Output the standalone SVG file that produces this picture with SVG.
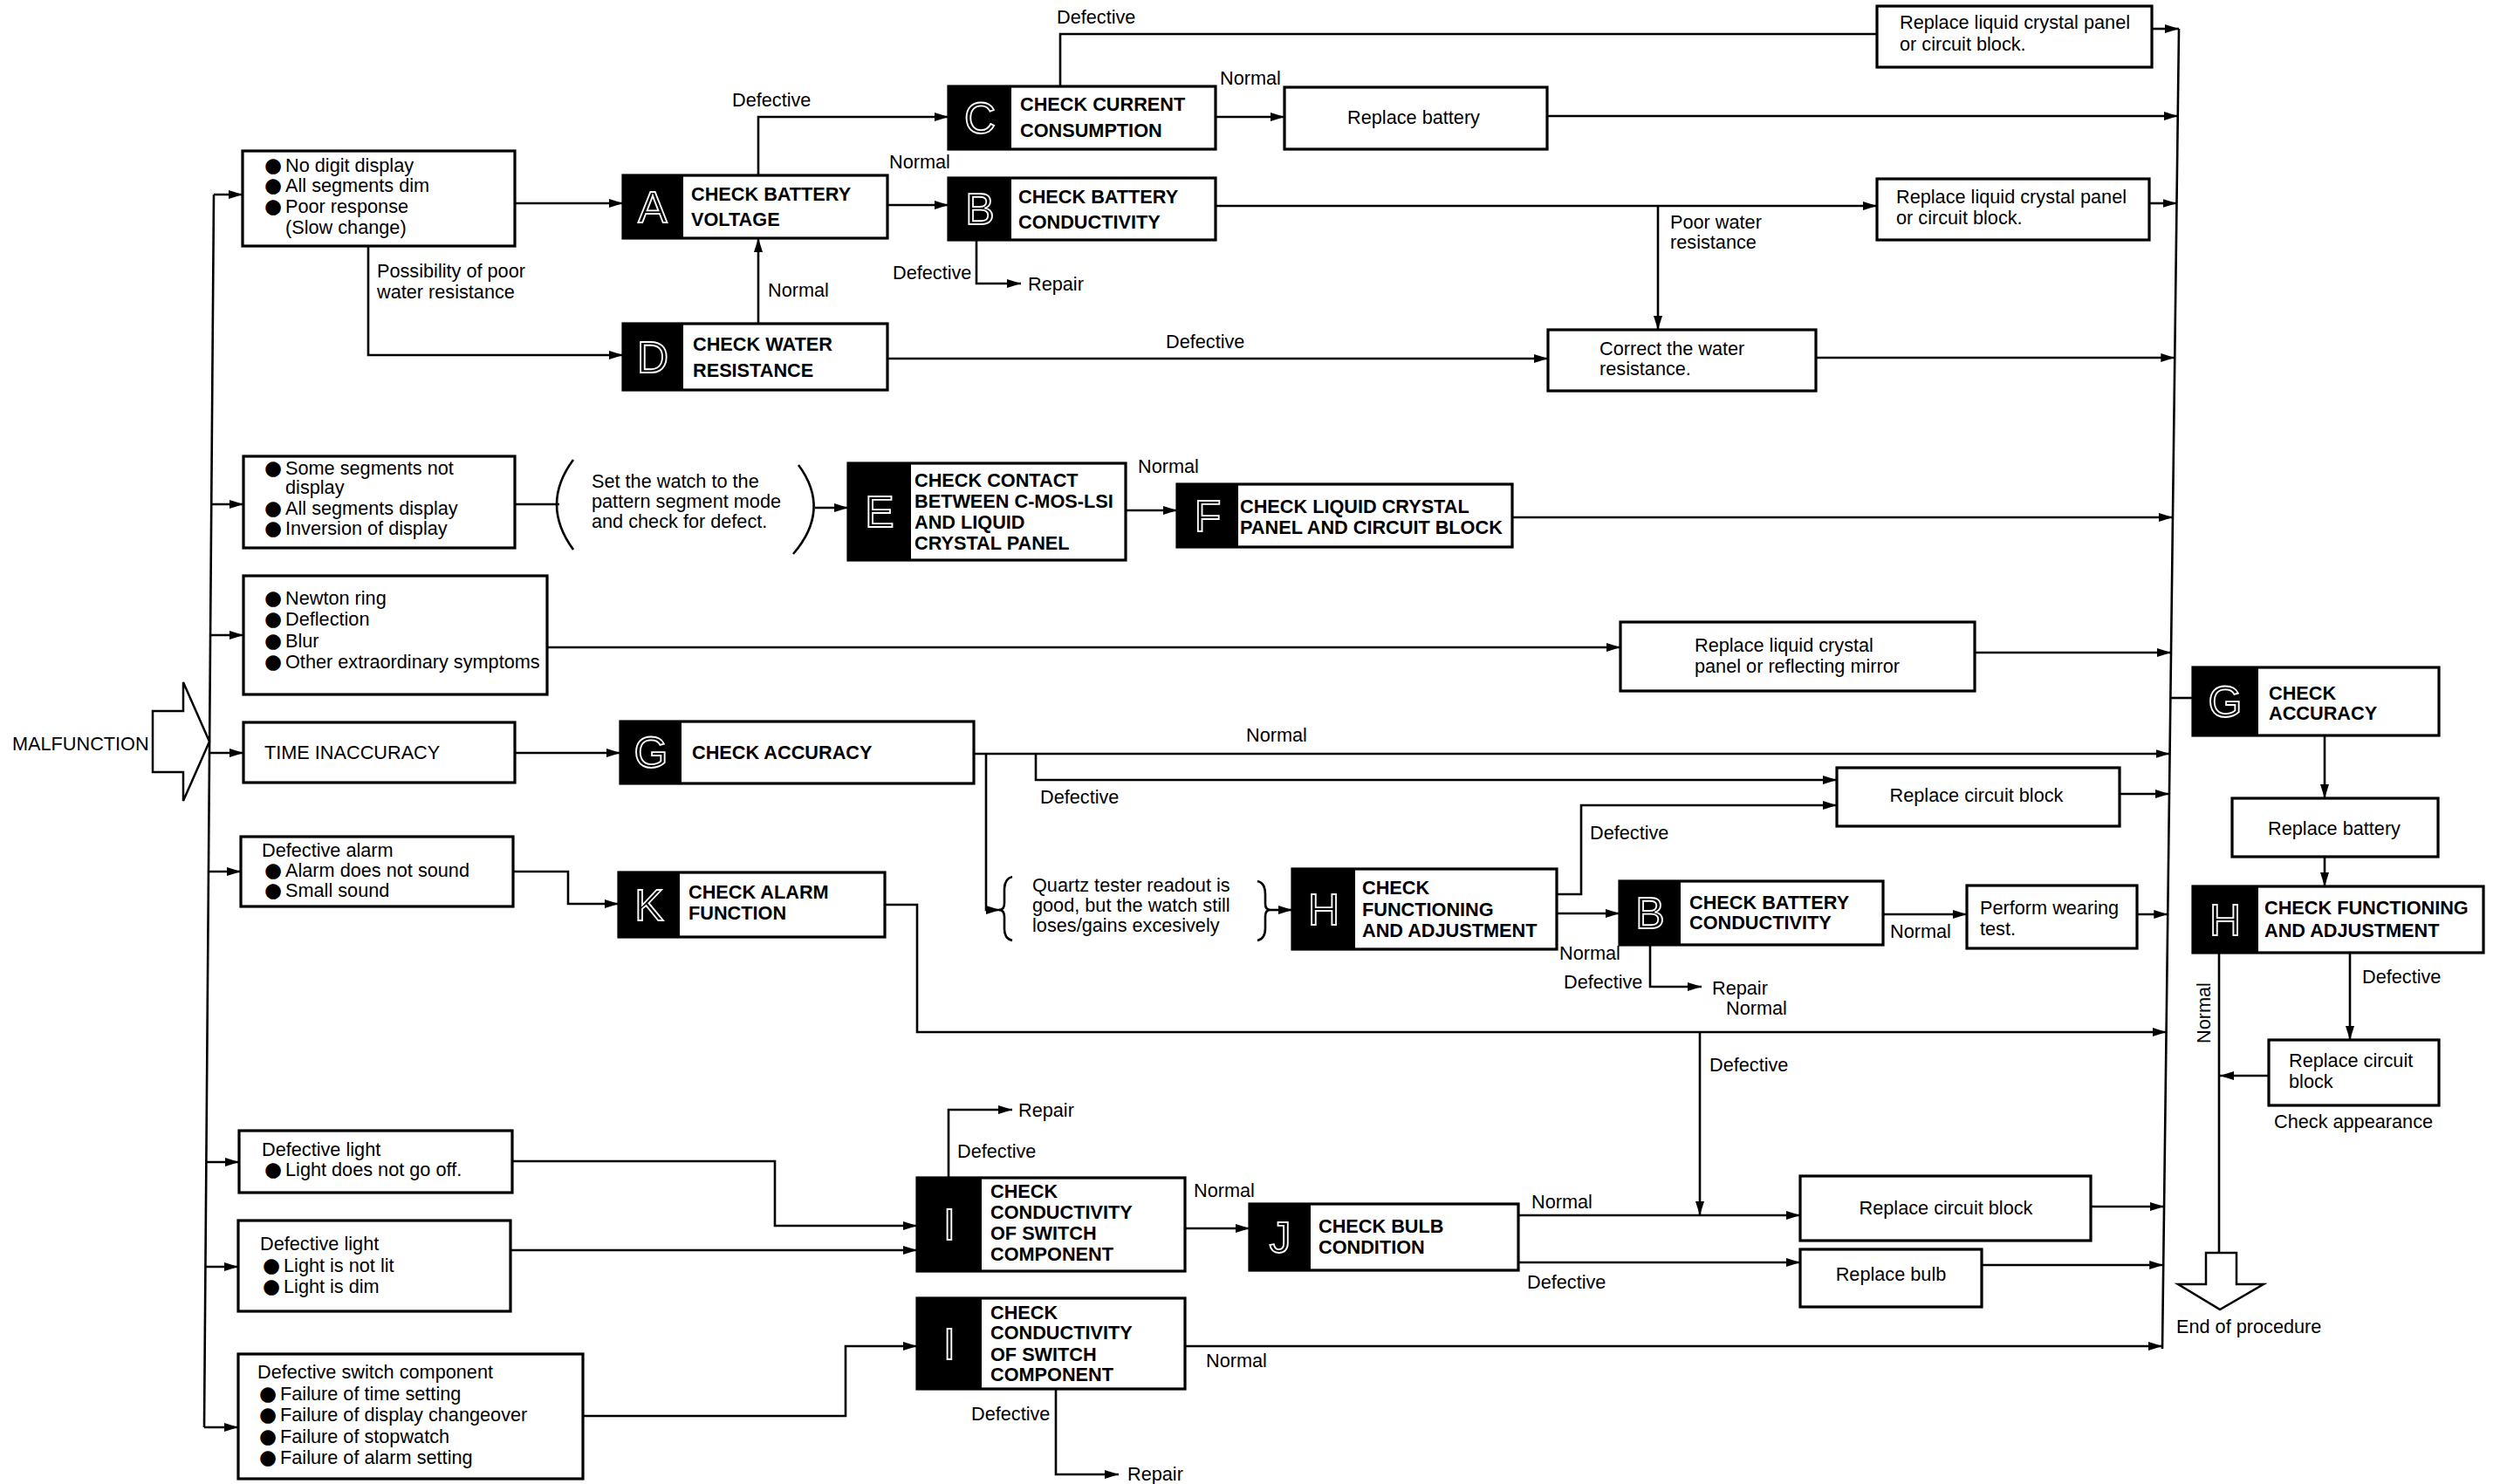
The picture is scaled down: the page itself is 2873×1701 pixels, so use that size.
<svg xmlns="http://www.w3.org/2000/svg" width="2873" height="1701" viewBox="0 0 2873 1701">
<style>
.bx{fill:#fff;stroke:#000;stroke-width:3.2}
.bk{fill:#000}
.ln{fill:none;stroke:#000;stroke-width:2.6}
.ar{marker-end:url(#ah)}
text{font-family:"Liberation Sans",Arial,Helvetica,sans-serif;font-size:21.7px;fill:#000}
.b{font-weight:bold}
.lt{font-size:50px;fill:#000;stroke:#fff;stroke-width:1.8;text-anchor:middle}
.c{text-anchor:middle}
.bul{font-family:"DejaVu Sans",sans-serif;font-size:23px}
.ol{fill:#fff;stroke:#000;stroke-width:2.5}
</style>
<defs>
<marker id="ah" viewBox="0 0 16 10" refX="16" refY="5" markerWidth="16" markerHeight="10" markerUnits="userSpaceOnUse" orient="auto"><path d="M0,0 L16,5 L0,10 z" fill="#000"/></marker>
</defs>
<rect width="2873" height="1701" fill="#fff"/>

<g id="connectors">
<!-- left bus -->
<path class="ln" d="M245,223 L234,1636"/>
<path class="ln ar" d="M245,223 H278"/>
<path class="ln ar" d="M242,578 H279"/>
<path class="ln ar" d="M241,728 H279"/>
<path class="ln ar" d="M240,863 H279"/>
<path class="ln ar" d="M239,999 H276"/>
<path class="ln ar" d="M236.4,1332 H274"/>
<path class="ln ar" d="M235.4,1452 H273"/>
<path class="ln ar" d="M234,1636 H273"/>
<!-- right bus -->
<path class="ln" d="M2497,33 L2478,1546"/>
<!-- top area -->
<path class="ln ar" d="M590,233 H714"/>
<path class="ln ar" d="M422,282 V407 H714"/>
<path class="ln ar" d="M869,371 V273"/>
<path class="ln ar" d="M869,201 V134 H1087"/>
<path class="ln ar" d="M1017,235 H1087"/>
<path class="ln" d="M1215,99 V39 H2151"/>
<path class="ln ar" d="M1393,134 H1472"/>
<path class="ln ar" d="M1773,133 H2495.8"/>
<path class="ln ar" d="M2466,33 H2497"/>
<path class="ln ar" d="M1393,236 H2151"/>
<path class="ln ar" d="M1900,236 V378"/>
<path class="ln ar" d="M1119,275 V325 H1170"/>
<path class="ln ar" d="M2463,233 H2494.5"/>
<path class="ln ar" d="M1017,411 H1774"/>
<path class="ln ar" d="M2081,410 H2492.3"/>
<!-- row 2 -->
<path class="ln" d="M590,578 H641"/>
<path class="ln" d="M657,527 Q619,578 657,630"/>
<path class="ln" d="M915,533 Q953,584 909,635"/>
<path class="ln ar" d="M934,582 H972"/>
<path class="ln ar" d="M1290,585 H1349"/>
<path class="ln ar" d="M1733,593 H2490"/>
<!-- row 3 -->
<path class="ln ar" d="M627,742 H1857"/>
<path class="ln ar" d="M2263,748 H2488"/>
<path class="ln" d="M2487.4,800 H2513"/>
<!-- row 4 -->
<path class="ln ar" d="M590,863 H711"/>
<path class="ln ar" d="M1116,864 H2486.5"/>
<path class="ln ar" d="M1187,864 V894 H2105"/>
<path class="ln ar" d="M1130,864 V1043 H1146"/>
<path class="ln" d="M1160,1005 Q1151,1007 1151,1020 L1151,1035 Q1151,1043 1145,1043 Q1151,1043 1151,1051 L1151,1065 Q1151,1076 1160,1078"/>
<path class="ln" d="M1441,1010 Q1450,1012 1450,1025 L1450,1036 Q1450,1043 1456,1043 Q1450,1043 1450,1050 L1450,1064 Q1450,1076 1441,1078"/>
<path class="ln ar" d="M1456,1043 H1481"/>
<path class="ln ar" d="M1784,1025 H1812 V923 H2105"/>
<path class="ln ar" d="M2429,910 H2486"/>
<path class="ln ar" d="M1784,1047 H1856"/>
<path class="ln ar" d="M1891,1083 V1131 H1950"/>
<path class="ln ar" d="M2158,1048 H2254"/>
<path class="ln ar" d="M2449,1048 H2484.3"/>
<!-- row 5 -->
<path class="ln ar" d="M588,999 H651 V1036 H709"/>
<path class="ln ar" d="M1014,1037 H1051 V1183 H2482.6"/>
<path class="ln ar" d="M1948,1183 V1393"/>
<!-- rows 6-8 -->
<path class="ln ar" d="M587,1331 H888 V1405 H1051"/>
<path class="ln ar" d="M585,1433 H1051"/>
<path class="ln ar" d="M1087,1350 V1272 H1160"/>
<path class="ln ar" d="M1358,1408 H1432"/>
<path class="ln ar" d="M1740,1393 H2063"/>
<path class="ln ar" d="M1740,1447 H2063"/>
<path class="ln ar" d="M2396,1383 H2480"/>
<path class="ln ar" d="M2271,1450 H2479.2"/>
<path class="ln ar" d="M668,1623 H969 V1543 H1051"/>
<path class="ln ar" d="M1358,1543 H2478"/>
<path class="ln ar" d="M1210,1592 V1690 H1282"/>
<!-- right column -->
<path class="ln ar" d="M2664,843 V915"/>
<path class="ln ar" d="M2664,982 V1016"/>
<path class="ln ar" d="M2693,1092 V1192"/>
<path class="ln ar" d="M2600,1233 H2544"/>
<path class="ln" d="M2543,1092 V1437"/>

<g id="labels">
<text x="432" y="318">Possibility of poor</text>
<text x="432" y="342">water resistance</text>
<text x="839" y="122">Defective</text>
<text x="880" y="340">Normal</text>
<text x="1211" y="27">Defective</text>
<text x="1398" y="97">Normal</text>
<text x="1019" y="193">Normal</text>
<text x="1023" y="320">Defective</text>
<text x="1178" y="333">Repair</text>
<text x="1914" y="262">Poor water</text>
<text x="1914" y="285">resistance</text>
<text x="1336" y="399">Defective</text>
<text x="1304" y="542">Normal</text>
<text x="1428" y="850">Normal</text>
<text x="1192" y="921">Defective</text>
<text x="1822" y="962">Defective</text>
<text x="1787" y="1100">Normal</text>
<text x="1792" y="1133">Defective</text>
<text x="1962" y="1140">Repair</text>
<text x="2166" y="1075">Normal</text>
<text x="1978" y="1163">Normal</text>
<text x="1959" y="1228">Defective</text>
<text x="1167" y="1280">Repair</text>
<text x="1097" y="1327">Defective</text>
<text x="1368" y="1372">Normal</text>
<text x="1755" y="1385">Normal</text>
<text x="1750" y="1477">Defective</text>
<text x="1382" y="1567">Normal</text>
<text x="1113" y="1628">Defective</text>
<text x="1292" y="1697">Repair</text>
<text x="2707" y="1127">Defective</text>
<text class="c" transform="translate(2533,1161) rotate(-90)">Normal</text>
<text x="2606" y="1293">Check appearance</text>
</g>
</g>

<g id="malfunction">
<polygon class="ol" points="175,815 210,815 210,782 240,850 210,918 210,885 175,885"/>
<text x="14" y="860">MALFUNCTION</text>
</g>

<g id="sym1">
<rect class="bx" x="278" y="173" width="312" height="109"/>
<text x="303" y="197"><tspan class="bul">●</tspan><tspan x="327">No digit display</tspan></text>
<text x="303" y="220"><tspan class="bul">●</tspan><tspan x="327">All segments dim</tspan></text>
<text x="303" y="244"><tspan class="bul">●</tspan><tspan x="327">Poor response</tspan></text>
<text x="327" y="268">(Slow change)</text>
</g>

<g id="nodeA">
<rect class="bx" x="714" y="201" width="303" height="72"/>
<rect class="bk" x="714" y="201" width="69" height="72"/>
<text class="lt" x="748" y="255">A</text>
<text class="b" x="792" y="230">CHECK BATTERY</text>
<text class="b" x="792" y="259">VOLTAGE</text>
</g>

<g id="nodeD">
<rect class="bx" x="714" y="371" width="303" height="76"/>
<rect class="bk" x="714" y="371" width="69" height="76"/>
<text class="lt" x="748" y="427">D</text>
<text class="b" x="794" y="402">CHECK WATER</text>
<text class="b" x="794" y="432">RESISTANCE</text>
</g>

<g id="nodeC">
<rect class="bx" x="1087" y="99" width="306" height="72"/>
<rect class="bk" x="1087" y="99" width="72" height="72"/>
<text class="lt" x="1123" y="153">C</text>
<text class="b" x="1169" y="127">CHECK CURRENT</text>
<text class="b" x="1169" y="157">CONSUMPTION</text>
</g>

<g id="nodeB">
<rect class="bx" x="1087" y="204" width="306" height="71"/>
<rect class="bk" x="1087" y="204" width="72" height="71"/>
<text class="lt" x="1123" y="257">B</text>
<text class="b" x="1167" y="233">CHECK BATTERY</text>
<text class="b" x="1167" y="262">CONDUCTIVITY</text>
</g>

<g id="replaceBattery1">
<rect class="bx" x="1472" y="100" width="301" height="71"/>
<text class="c" x="1620" y="142">Replace battery</text>
</g>

<g id="replaceLCD1">
<rect class="bx" x="2151" y="7" width="315" height="70"/>
<text x="2177" y="33">Replace liquid crystal panel</text>
<text x="2177" y="58">or circuit block.</text>
</g>

<g id="replaceLCD2">
<rect class="bx" x="2151" y="205" width="312" height="70"/>
<text x="2173" y="233">Replace liquid crystal panel</text>
<text x="2173" y="257">or circuit block.</text>
</g>

<g id="correctWater">
<rect class="bx" x="1774" y="378" width="307" height="70"/>
<text x="1833" y="407">Correct the water</text>
<text x="1833" y="430">resistance.</text>
</g>

<g id="sym2">
<rect class="bx" x="279" y="523" width="311" height="105"/>
<text x="303" y="544"><tspan class="bul">●</tspan><tspan x="327">Some segments not</tspan></text>
<text x="327" y="566">display</text>
<text x="303" y="590"><tspan class="bul">●</tspan><tspan x="327">All segments display</tspan></text>
<text x="303" y="613"><tspan class="bul">●</tspan><tspan x="327">Inversion of display</tspan></text>
</g>

<g id="notePattern">
<text x="678" y="559">Set the watch to the</text>
<text x="678" y="582">pattern segment mode</text>
<text x="678" y="605">and check for defect.</text>
</g>

<g id="nodeE">
<rect class="bx" x="972" y="531" width="318" height="111"/>
<rect class="bk" x="972" y="531" width="72" height="111"/>
<text class="lt" x="1008" y="604">E</text>
<text class="b" x="1048" y="558">CHECK CONTACT</text>
<text class="b" x="1048" y="582">BETWEEN C-MOS-LSI</text>
<text class="b" x="1048" y="606">AND LIQUID</text>
<text class="b" x="1048" y="630">CRYSTAL PANEL</text>
</g>

<g id="nodeF">
<rect class="bx" x="1349" y="555" width="384" height="72"/>
<rect class="bk" x="1349" y="555" width="70" height="72"/>
<text class="lt" x="1384" y="609">F</text>
<text class="b" x="1421" y="588">CHECK LIQUID CRYSTAL</text>
<text class="b" x="1421" y="612">PANEL AND CIRCUIT BLOCK</text>
</g>

<g id="sym3">
<rect class="bx" x="279" y="660" width="348" height="136"/>
<text x="303" y="693"><tspan class="bul">●</tspan><tspan x="327">Newton ring</tspan></text>
<text x="303" y="717"><tspan class="bul">●</tspan><tspan x="327">Deflection</tspan></text>
<text x="303" y="742"><tspan class="bul">●</tspan><tspan x="327">Blur</tspan></text>
<text x="303" y="766"><tspan class="bul">●</tspan><tspan x="327">Other extraordinary symptoms</tspan></text>
</g>

<g id="replaceLCDMirror">
<rect class="bx" x="1857" y="713" width="406" height="79"/>
<text x="1942" y="747">Replace liquid crystal</text>
<text x="1942" y="771">panel or reflecting mirror</text>
</g>

<g id="sym4">
<rect class="bx" x="279" y="828" width="311" height="69"/>
<text x="303" y="870">TIME INACCURACY</text>
</g>

<g id="nodeG">
<rect class="bx" x="711" y="827" width="405" height="71"/>
<rect class="bk" x="711" y="827" width="70" height="71"/>
<text class="lt" x="746" y="880">G</text>
<text class="b" x="793" y="870">CHECK ACCURACY</text>
</g>

<g id="noteQuartz">
<text x="1183" y="1022">Quartz tester readout is</text>
<text x="1183" y="1045">good, but the watch still</text>
<text x="1183" y="1068">loses/gains excesively</text>
</g>

<g id="nodeH">
<rect class="bx" x="1481" y="996" width="303" height="92"/>
<rect class="bk" x="1481" y="996" width="72" height="92"/>
<text class="lt" x="1517" y="1060">H</text>
<text class="b" x="1561" y="1025">CHECK</text>
<text class="b" x="1561" y="1050">FUNCTIONING</text>
<text class="b" x="1561" y="1074">AND ADJUSTMENT</text>
</g>

<g id="replaceCircuit1">
<rect class="bx" x="2105" y="880" width="324" height="67"/>
<text class="c" x="2265" y="919">Replace circuit block</text>
</g>

<g id="nodeB2">
<rect class="bx" x="1856" y="1010" width="302" height="73"/>
<rect class="bk" x="1856" y="1010" width="70" height="73"/>
<text class="lt" x="1891" y="1064">B</text>
<text class="b" x="1936" y="1042">CHECK BATTERY</text>
<text class="b" x="1936" y="1065">CONDUCTIVITY</text>
</g>

<g id="wearingTest">
<rect class="bx" x="2254" y="1015" width="195" height="72"/>
<text x="2269" y="1048">Perform wearing</text>
<text x="2269" y="1072">test.</text>
</g>

<g id="sym5">
<rect class="bx" x="276" y="959" width="312" height="80"/>
<text x="300" y="982">Defective alarm</text>
<text x="303" y="1005"><tspan class="bul">●</tspan><tspan x="327">Alarm does not sound</tspan></text>
<text x="303" y="1028"><tspan class="bul">●</tspan><tspan x="327">Small sound</tspan></text>
</g>

<g id="nodeK">
<rect class="bx" x="709" y="1000" width="305" height="74"/>
<rect class="bk" x="709" y="1000" width="70" height="74"/>
<text class="lt" x="744" y="1055">K</text>
<text class="b" x="789" y="1030">CHECK ALARM</text>
<text class="b" x="789" y="1054">FUNCTION</text>
</g>

<g id="sym6">
<rect class="bx" x="274" y="1296" width="313" height="71"/>
<text x="300" y="1325">Defective light</text>
<text x="303" y="1348"><tspan class="bul">●</tspan><tspan x="327">Light does not go off.</tspan></text>
</g>

<g id="sym7">
<rect class="bx" x="273" y="1399" width="312" height="104"/>
<text x="298" y="1433">Defective light</text>
<text x="301" y="1458"><tspan class="bul">●</tspan><tspan x="325">Light is not lit</tspan></text>
<text x="301" y="1482"><tspan class="bul">●</tspan><tspan x="325">Light is dim</tspan></text>
</g>

<g id="nodeI1">
<rect class="bx" x="1051" y="1350" width="307" height="107"/>
<rect class="bk" x="1051" y="1350" width="74" height="107"/>
<text class="lt" x="1088" y="1421">I</text>
<text class="b" x="1135" y="1373">CHECK</text>
<text class="b" x="1135" y="1397">CONDUCTIVITY</text>
<text class="b" x="1135" y="1421">OF SWITCH</text>
<text class="b" x="1135" y="1445">COMPONENT</text>
</g>

<g id="nodeJ">
<rect class="bx" x="1432" y="1380" width="308" height="76"/>
<rect class="bk" x="1432" y="1380" width="70" height="76"/>
<text class="lt" x="1467" y="1436">J</text>
<text class="b" x="1511" y="1413">CHECK BULB</text>
<text class="b" x="1511" y="1437">CONDITION</text>
</g>

<g id="replaceCircuit3">
<rect class="bx" x="2063" y="1348" width="333" height="74"/>
<text class="c" x="2230" y="1392">Replace circuit block</text>
</g>

<g id="replaceBulb">
<rect class="bx" x="2063" y="1432" width="208" height="66"/>
<text class="c" x="2167" y="1468">Replace bulb</text>
</g>

<g id="sym8">
<rect class="bx" x="273" y="1552" width="395" height="143"/>
<text x="295" y="1580">Defective switch component</text>
<text x="297" y="1605"><tspan class="bul">●</tspan><tspan x="321">Failure of time setting</tspan></text>
<text x="297" y="1629"><tspan class="bul">●</tspan><tspan x="321">Failure of display changeover</tspan></text>
<text x="297" y="1654"><tspan class="bul">●</tspan><tspan x="321">Failure of stopwatch</tspan></text>
<text x="297" y="1678"><tspan class="bul">●</tspan><tspan x="321">Failure of alarm setting</tspan></text>
</g>

<g id="nodeI2">
<rect class="bx" x="1051" y="1488" width="307" height="104"/>
<rect class="bk" x="1051" y="1488" width="74" height="104"/>
<text class="lt" x="1088" y="1558">I</text>
<text class="b" x="1135" y="1512">CHECK</text>
<text class="b" x="1135" y="1535">CONDUCTIVITY</text>
<text class="b" x="1135" y="1560">OF SWITCH</text>
<text class="b" x="1135" y="1583">COMPONENT</text>
</g>

<g id="nodeG2">
<rect class="bx" x="2513" y="765" width="282" height="78"/>
<rect class="bk" x="2513" y="765" width="75" height="78"/>
<text class="lt" x="2550" y="822">G</text>
<text class="b" x="2600" y="802">CHECK</text>
<text class="b" x="2600" y="825">ACCURACY</text>
</g>

<g id="replaceBattery2">
<rect class="bx" x="2558" y="915" width="236" height="67"/>
<text class="c" x="2675" y="957">Replace battery</text>
</g>

<g id="nodeH2">
<rect class="bx" x="2513" y="1016" width="333" height="76"/>
<rect class="bk" x="2513" y="1016" width="75" height="76"/>
<text class="lt" x="2550" y="1072">H</text>
<text class="b" x="2595" y="1048">CHECK FUNCTIONING</text>
<text class="b" x="2595" y="1074">AND ADJUSTMENT</text>
</g>

<g id="replaceCircuit4">
<rect class="bx" x="2600" y="1192" width="195" height="75"/>
<text x="2623" y="1223">Replace circuit</text>
<text x="2623" y="1247">block</text>
</g>

<g id="endProcedure">
<polygon class="ol" points="2528,1436 2563,1436 2563,1472 2594,1472 2544,1501 2496,1472 2528,1472"/>
<text x="2494" y="1528">End of procedure</text>
</g>
</svg>
